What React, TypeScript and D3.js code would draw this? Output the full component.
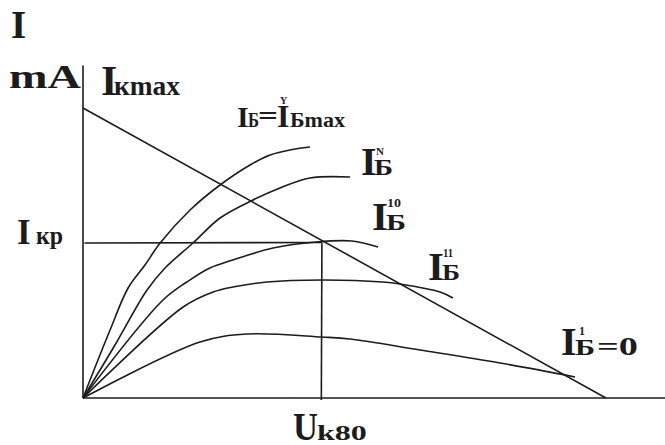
import React from "react";
import * as d3 from "d3";

// collector voltage U (V) / collector current I (mA)
const ibMaxU = [0, 0.93, 1.55, 2.13, 2.65, 3.68, 4.71, 5.74, 6.43, 7.11, 7.8];
const ibMaxI = [0, 2.72, 4.4, 5.32, 6.2, 7.52, 8.52, 9.32, 9.72, 9.92, 10.04];

const ibNU = [0, 1.1, 2.2, 2.82, 3.78, 4.71, 5.84, 6.77, 7.8, 9.18];
const ibNI = [0, 2.12, 4.32, 5.2, 6.2, 7.2, 7.92, 8.4, 8.8, 8.84];

const ib10U = [0, 2.75, 3.57, 4.36, 5.15, 6.53, 8.01, 9.24, 10.14];
const ib10I = [0, 3.92, 4.64, 5.2, 5.52, 6.0, 6.24, 6.28, 6.04];

const ib11U = [0, 3.44, 4.47, 5.15, 6.32, 8.21, 10.31, 10.89, 12.27, 12.71];
const ib11I = [0, 3.64, 4.24, 4.44, 4.64, 4.72, 4.64, 4.56, 4.24, 4.0];

const ib0U = [0, 4.02, 5.64, 8.21, 9.18, 11.58, 14.33, 16.91];
const ib0I = [0, 2.24, 2.56, 2.44, 2.36, 1.92, 1.4, 0.84];

// load line: Ikmax at U=0, zero current at U=Ek
const loadU = [0, 17.97];
const loadI = [11.6, 0];

const ikp = 6.22;
const uk0 = 8.21;
const uMax = 20;
const iTop = 13.3;

const series = [
  [ibMaxU, ibMaxI],
  [ibNU, ibNI],
  [ib10U, ib10I],
  [ib11U, ib11I],
  [ib0U, ib0I],
];

const W = 665;
const H = 445;
const FONT = "Liberation Serif, Times New Roman, serif";
const INK = "#1c1c1c";

function T({ x, y, size, len, children }: any) {
  return (
    <text
      x={x}
      y={y}
      fontSize={size}
      textLength={len}
      lengthAdjust={len ? "spacingAndGlyphs" : undefined}
    >
      {children}
    </text>
  );
}

export default function App() {
  const x = d3.scaleLinear().domain([0, uMax]).range([83, 665]);
  const y = d3.scaleLinear().domain([0, 14]).range([398, 48]);

  const line = d3
    .line<[number, number]>()
    .x((d) => x(d[0]))
    .y((d) => y(d[1]))
    .curve(d3.curveCatmullRom.alpha(0.5));

  const straight = d3
    .line<[number, number]>()
    .x((d) => x(d[0]))
    .y((d) => y(d[1]));

  const toPts = (us: number[], is: number[]) =>
    us.map((u, i) => [u, is[i]] as [number, number]);

  return (
    <svg
      width={W}
      height={H}
      style={{ position: "absolute", left: 0, top: 0, background: "#fff" }}
      fontFamily={FONT}
      fontWeight="bold"
      fill={INK}
    >
      <g fill="none" stroke={INK} strokeWidth={1.6}>
        {/* axes */}
        <path d={straight([[0, 0], [uMax, 0]])!} />
        <path d={straight([[0, 0], [0, iTop]])!} />
        {/* load line */}
        <path d={straight(toPts(loadU, loadI))!} />
        {/* operating point guides */}
        <path d={straight([[0.05, ikp - 0.02], [uk0, ikp]])!} />
        <path d={straight([[uk0, ikp], [uk0 - 0.02, -0.08]])!} />
        {series.map(([us, is], k) => (
          <path key={k} d={line(toPts(us, is))!} />
        ))}
      </g>

      <g stroke="none">
        <T x={11} y={38} size={39}>I</T>
        <T x={9} y={88} size={34} len={72}>mA</T>

        <T x={101} y={95} size={42}>I</T>
        <T x={114} y={95} size={27} len={66}>кmax</T>

        <T x={237} y={127} size={30}>I</T>
        <T x={248} y={127} size={22} len={11}>Б</T>
        <T x={258} y={125} size={28} len={20}>=</T>
        <T x={277} y={127} size={32}>I</T>
        <T x={280} y={104} size={10}>Y</T>
        <T x={290} y={127} size={22} len={55}>Бmax</T>

        <T x={361} y={175} size={40}>I</T>
        <T x={374} y={175} size={23} len={19}>Б</T>
        <T x={376} y={155} size={11}>N</T>

        <T x={372} y={230} size={41}>I</T>
        <T x={386} y={230} size={23} len={20}>Б</T>
        <T x={387} y={207} size={13} len={14}>10</T>

        <T x={428} y={280} size={41}>I</T>
        <T x={442} y={280} size={23} len={18}>Б</T>
        <T x={443} y={257} size={13} len={10}>11</T>

        <T x={561} y={355} size={40}>I</T>
        <T x={575} y={355} size={24} len={20}>Б</T>
        <T x={579} y={335} size={12}>1</T>
        <T x={597} y={355} size={26} len={41}>=0</T>

        <T x={17} y={y(ikp) + 1} size={35}>I</T>
        <T x={36} y={y(ikp) + 1} size={25} len={27}>кр</T>

        <T x={x(uk0) - 29} y={440} size={40} len={25}>U</T>
        <T x={x(uk0) - 5} y={440} size={20} len={50}>k80</T>
      </g>
    </svg>
  );
}
